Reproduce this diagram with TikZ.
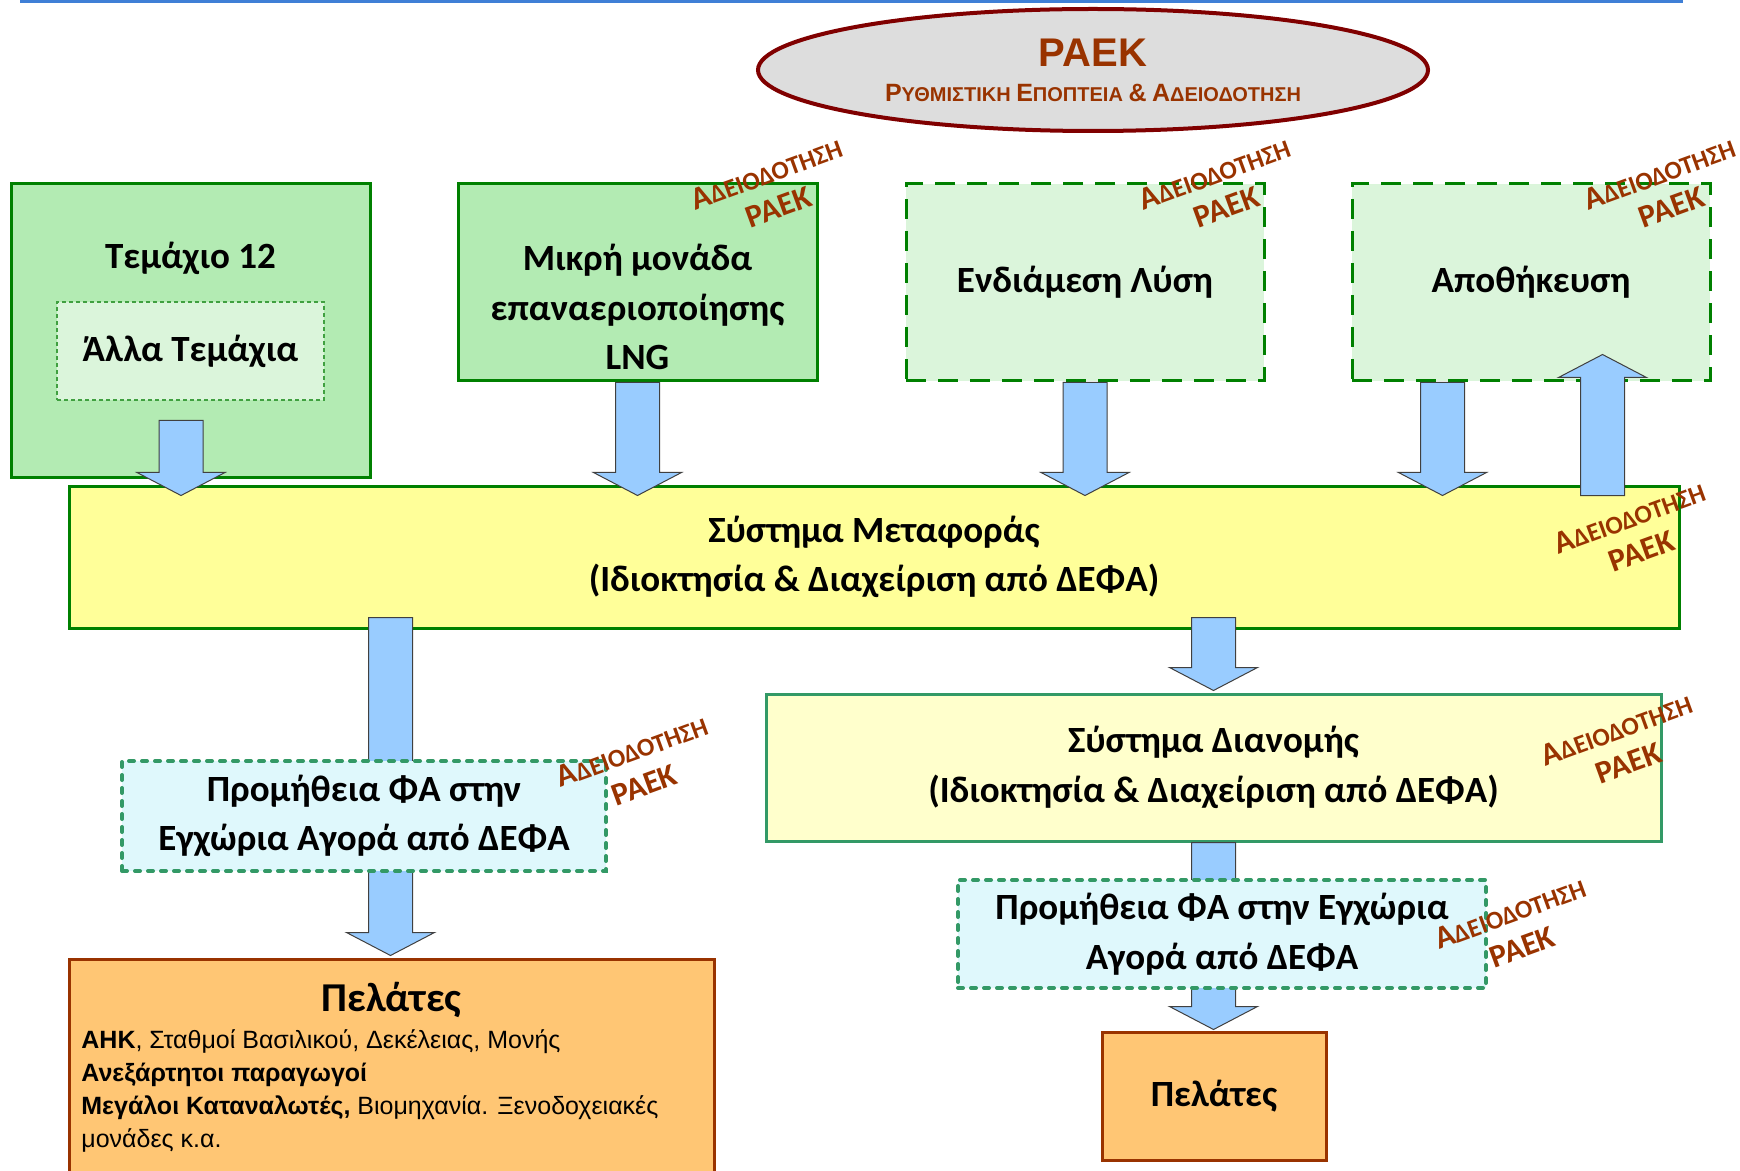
\documentclass[tikz,border=0pt]{standalone}
\usepackage{fontspec}
\setmainfont{Carlito}
\newfontfamily\arialfont{Liberation Sans}
\usetikzlibrary{shapes.geometric, positioning, calc}
\definecolor{BoxGreen}{HTML}{B3EBB3}
\definecolor{PaleGreen}{HTML}{DBF5DB}
\definecolor{LineGreen}{HTML}{008000}
\definecolor{SeaGreen}{HTML}{339966}
\definecolor{TransYellow}{HTML}{FFFF99}
\definecolor{DistYellow}{HTML}{FFFFCC}
\definecolor{SupplyCyan}{HTML}{DFF8FC}
\definecolor{CustOrange}{HTML}{FFC674}
\definecolor{CustBrown}{HTML}{993300}
\definecolor{RaekRed}{HTML}{993300}
\definecolor{RaekGrey}{HTML}{DDDDDD}
\definecolor{RaekBorder}{HTML}{800000}
\definecolor{FlowBlue}{HTML}{99CCFF}
\definecolor{RuleBlue}{HTML}{3F7FD6}
\newcommand{\bigsmall}[2]{{\fontsize{12.5}{14}\selectfont #1}{\fontsize{10}{14}\selectfont #2}}
\newcommand{\adeiatext}{{\fontsize{16}{18}\selectfont Α}{\fontsize{12.8}{18}\selectfont ΔΕΙΟΔΟΤΗΣΗ}\\ΡΑΕΚ}
% block arrows: #1 = start of shaft, #2 = tip
\newcommand{\blockdown}[2]{\draw[blockarrow] let \p1=#1, \p2=#2 in
  (\x1-11pt,\y1) -- (\x1+11pt,\y1) -- (\x1+11pt,\y2+11.5pt) -- (\x1+22pt,\y2+11.5pt) -- (\x1,\y2)
  -- (\x1-22pt,\y2+11.5pt) -- (\x1-11pt,\y2+11.5pt) -- cycle;}
\newcommand{\blockup}[2]{\draw[blockarrow] let \p1=#1, \p2=#2 in
  (\x1-11pt,\y1) -- (\x1+11pt,\y1) -- (\x1+11pt,\y2-11.5pt) -- (\x1+22pt,\y2-11.5pt) -- (\x1,\y2)
  -- (\x1-22pt,\y2-11.5pt) -- (\x1-11pt,\y2-11.5pt) -- cycle;}
\tikzset{
  % Box styles
  boxfont/.style={font=\bfseries\fontsize{18.5}{24.7}\selectfont, align=center, inner sep=0pt},
  greenbox/.style={rectangle, draw=LineGreen, line width=1.5pt, fill=BoxGreen, boxfont},
  dashbox/.style={rectangle, draw=LineGreen, line width=1.5pt, fill=PaleGreen, dash pattern=on 10pt off 6pt, boxfont},
  innerdash/.style={rectangle, draw=LineGreen!75, line width=0.6pt, fill=PaleGreen, dash pattern=on 2pt off 1.5pt, boxfont},
  transbox/.style={rectangle, draw=LineGreen, line width=1.5pt, fill=TransYellow, boxfont},
  distbox/.style={rectangle, draw=SeaGreen, line width=1.5pt, fill=DistYellow, boxfont},
  supplybox/.style={rectangle, draw=SeaGreen, line width=2pt, fill=SupplyCyan, dash pattern=on 2.5pt off 4pt, line cap=round, boxfont},
  custbox/.style={rectangle, draw=CustBrown, line width=1.5pt, fill=CustOrange, boxfont},
  raekoval/.style={ellipse, draw=RaekBorder, line width=2pt, fill=RaekGrey, inner sep=0pt, text=RaekRed, font=\arialfont\bfseries, align=center},
  listtext/.style={font=\arialfont\fontsize{12.5}{16.5}\selectfont, align=left, inner sep=0pt},
  adeia/.style={rotate=20, align=center, text=RaekRed, font=\bfseries\fontsize{16}{18}\selectfont, inner sep=0pt},
  % Arrow styles
  blockarrow/.style={fill=FlowBlue, draw=black!75, line width=0.5pt}
}
\begin{document}
\begin{tikzpicture}[x=0.5pt, y=-0.5pt]
  \clip (0,0) rectangle (1740,1171);
  \draw[RuleBlue, line width=1.5pt] (20,1.5) -- (1683,1.5);

  % Regulator
  \node[raekoval, minimum width=335pt, minimum height=61pt] (raek) at (1093,70) {%
    {\fontsize{20}{24}\selectfont ΡΑΕΚ}\\[5.5pt]
    \bigsmall{Ρ}{ΥΘΜΙΣΤΙΚΗ} \bigsmall{Ε}{ΠΟΠΤΕΙΑ} \bigsmall{\&}{} \bigsmall{Α}{ΔΕΙΟΔΟΤΗΣΗ}};

  % Sources
  \node[greenbox, minimum width=179.5pt, minimum height=147pt] (tem) at (190.5,331) {};
  \node[boxfont] (temtitle) at (190.5,258) {Τεμάχιο 12};
  \node[innerdash, minimum width=133.5pt, minimum height=49pt] (other) at (190.5,351) {Άλλα Τεμάχια};

  \node[greenbox, minimum width=179.5pt, minimum height=98.5pt] (lng) at (637.5,282.5) {};
  \node[boxfont] (lngtext) at (637.5,307) {Μικρή μονάδα\\επαναεριοποίησης\\LNG};

  \node[dashbox, minimum width=179pt, minimum height=98.5pt] (interim) at (1085,282.5) {Ενδιάμεση Λύση};
  \node[dashbox, minimum width=179pt, minimum height=98.5pt] (storage) at (1531,282.5) {Αποθήκευση};

  % Networks
  \node[transbox, minimum width=805pt, minimum height=71pt] (trans) at (874,557)
    {Σύστημα Μεταφοράς\\(Ιδιοκτησία \& Διαχείριση από ΔΕΦΑ)};
  \node[distbox, minimum width=447.5pt, minimum height=73.5pt] (dist) at (1213.5,767.5)
    {Σύστημα Διανομής\\(Ιδιοκτησία \& Διαχείριση από ΔΕΦΑ)};

  % Customers
  \node[custbox, minimum width=322.5pt, minimum height=115.5pt] (custL) at (391.5,1074.5) {};
  \node[font=\bfseries\fontsize{20.5}{24}\selectfont] (custLtitle) at (391.5,1000) {Πελάτες};
  \node[listtext, anchor=north west] (custLlist) at (81,1029) {%
    \textbf{ΑΗΚ}, Σταθμοί Βασιλικού, Δεκέλειας, Μονής\\
    \textbf{Ανεξάρτητοι παραγωγοί}\\
    \textbf{Μεγάλοι Καταναλωτές,} Βιομηχανία. Ξενοδοχειακές\\
    μονάδες κ.α.};
  \node[custbox, minimum width=112pt, minimum height=64pt] (custR) at (1214,1096) {Πελάτες};

  % Arrows
  \coordinate (a1) at ($(tem.south)+(-9.5,-59)$);
  \blockdown{(a1)}{($(a1 |- trans.north)+(0,11)$)}
  \blockdown{(lng.south)}{($(lng.south |- trans.north)+(0,11)$)}
  \blockdown{(interim.south)}{($(interim.south |- trans.north)+(0,11)$)}
  \blockdown{($(storage.south)+(-88.5,0)$)}{($(storage.south |- trans.north)+(-88.5,11)$)}
  \blockup{($(storage.south |- trans.north)+(71.5,11)$)}{($(storage.south)+(71.5,-28)$)}
  \blockdown{($(custL.north |- trans.south)+(-1,-12)$)}{($(custL.north)+(-1,-2)$)}
  \blockdown{($(dist.north |- trans.south)+(0,-12)$)}{($(dist.north)+(0,-2)$)}
  \blockdown{(dist.south)}{($(custR.north)+(0,-1)$)}

  % Supply
  \node[supplybox, minimum width=242pt, minimum height=55pt] (supL) at (364,816)
    {Προμήθεια ΦΑ στην\\Εγχώρια Αγορά από ΔΕΦΑ};
  \node[supplybox, minimum width=264pt, minimum height=54pt] (supR) at (1222,934)
    {Προμήθεια ΦΑ στην Εγχώρια\\Αγορά από ΔΕΦΑ};

  % Licensing marks
  \node[adeia] (licLng) at ($(lng.north east)+(-46,8)$) {\adeiatext};
  \node[adeia] (licInterim) at ($(interim.north east)+(-45,8)$) {\adeiatext};
  \node[adeia] (licStorage) at ($(storage.north east)+(-46,8)$) {\adeiatext};
  \node[adeia] (licTrans) at ($(trans.north east)+(-45,50)$) {\adeiatext};
  \node[adeia] (licDist) at ($(dist.north east)+(-40,54)$) {\adeiatext};
  \node[adeia] (licSupL) at ($(supL.north east)+(30,9)$) {\adeiatext};
  \node[adeia] (licSupR) at ($(supR.north east)+(28,52)$) {\adeiatext};
\end{tikzpicture}
\end{document}
